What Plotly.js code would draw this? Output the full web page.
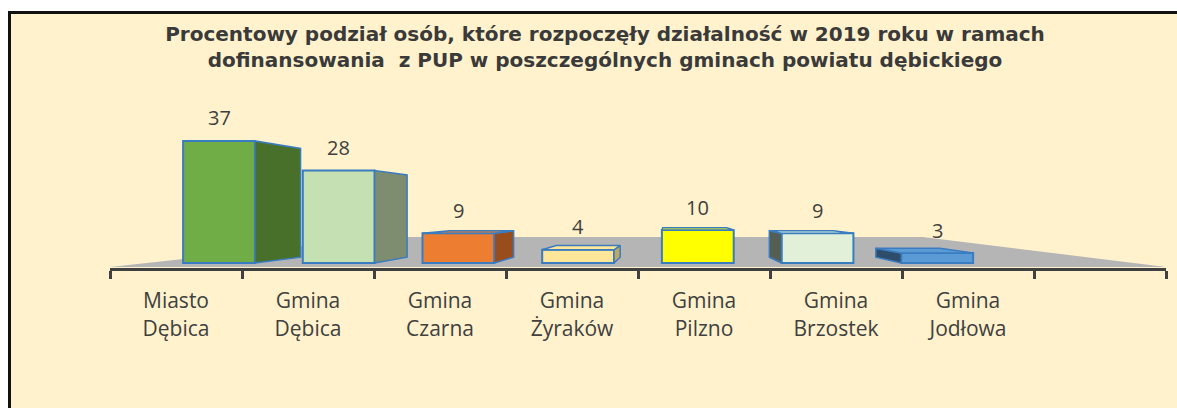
<!DOCTYPE html>
<html>
<head>
<meta charset="utf-8">
<script src="https://cdn.plot.ly/plotly-3.0.1.min.js"></script>
<style>
  html, body { margin: 0; padding: 0; background: #ffffff; width: 1177px; height: 408px; overflow: hidden; }
  #frame { position: absolute; left: 8px; top: 11px; width: 1169px; height: 397px;
           border-left: 3px solid #111111; border-top: 3px solid #111111; background: #FFF2CC; }
  #chart { width: 1166px; height: 394px; }
</style>
</head>
<body>
<div id="frame"><div id="chart"></div></div>
<script>
// ---- data ----
const categories = ['Miasto Dębica', 'Gmina Dębica', 'Gmina Czarna', 'Gmina Żyraków', 'Gmina Pilzno', 'Gmina Brzostek', 'Gmina Jodłowa'];
const values = [37, 28, 9, 4, 10, 9, 3];
const tickLabels = categories.map(c => c.split(' ').join('<br>'));

// ---- styles ----
const frontColors = ['#70AD47', '#C5E0B3', '#ED7D31', '#FFE699', '#FFFF00', '#E2F0D9', '#5B9BD5'];
const sideColors  = ['#48702B', '#7E8C6F', '#9A4D1C', '#BFA865', '#7F7F00', '#545E52', '#2E4D6B'];
const outline = '#3A7CC0';
const textColor = '#404040';

// ---- layout geometry (internal px) ----
const W = 1166, H = 394;
const M = {l: 99, r: 11, t: 86, b: 140};
const plotW = W - M.l - M.r, plotH = H - M.t - M.b;
const xr0 = -0.9106, xr1 = 7.9114;          // bar axis (perspective-compressed front row)
const pxPerY = 3.3;
const yr0 = -5 / pxPerY, yr1 = (plotH - 5) / pxPerY;
const halfW = 0.30;
const VP = {x: 659, y: 196};                 // vanishing point
const depthT = 0.11;

const px = v => M.l + (v - xr0) / (xr1 - xr0) * plotW;
const py = v => M.t + (yr1 - v) / (yr1 - yr0) * plotH;
const ix = p => xr0 + (p - M.l) / plotW * (xr1 - xr0);
const iy = p => yr1 - (p - M.t) / plotH * (yr1 - yr0);
const back = (x, y, t) => [x + t * (VP.x - x), y + t * (VP.y - y)];

const traces = [];
// side and top faces, derived from each bar's value
values.forEach((v, i) => {
  const xl = px(i - halfW), xrr = px(i + halfW), yt = py(v), yb = py(0);
  let edge = null;
  if (xrr < VP.x) edge = xrr; else if (xl > VP.x) edge = xl;
  if (edge !== null) {
    const pts = [[edge, yb], [edge, yt], back(edge, yt, depthT), back(edge, yb, depthT), [edge, yb]];
    traces.push({type: 'scatter', mode: 'lines', fill: 'toself', fillcolor: sideColors[i],
      x: pts.map(p => ix(p[0])), y: pts.map(p => iy(p[1])),
      line: {color: outline, width: 1.5}, hoverinfo: 'skip', showlegend: false, cliponaxis: false});
  }
  if (yt > VP.y) {
    const pts = [[xl, yt], [xrr, yt], back(xrr, yt, depthT), back(xl, yt, depthT), [xl, yt]];
    traces.push({type: 'scatter', mode: 'lines', fill: 'toself', fillcolor: frontColors[i],
      x: pts.map(p => ix(p[0])), y: pts.map(p => iy(p[1])),
      line: {color: outline, width: 1.5}, hoverinfo: 'skip', showlegend: false, cliponaxis: false});
  }
});
// front faces
traces.push({
  type: 'bar', x: categories.map((c, i) => i), y: values, width: 2 * halfW,
  marker: {color: frontColors, line: {color: outline, width: 2}},
  hovertext: categories, hoverinfo: 'text+y', showlegend: false
});
// invisible trace that carries the category axis (labels + boundary ticks)
traces.push({
  type: 'scatter', mode: 'none', xaxis: 'x2', yaxis: 'y',
  x: categories.map((c, i) => i), y: values, hoverinfo: 'skip', showlegend: false
});

// floor (decoration) in paper coords
const yb0 = py(0);
const floorT = (yb0 - 223) / (yb0 - VP.y);
const fl = [[M.l, yb0 + 4], [M.l + plotW, yb0 + 4], back(M.l + plotW, yb0, floorT), back(M.l, yb0, floorT)];
const toPaper = p => [(p[0] - M.l) / plotW, (M.t + plotH - p[1]) / plotH];
const floorPath = fl.map((p, k) => { const q = toPaper(p); return (k ? 'L' : 'M') + q[0].toFixed(4) + ',' + q[1].toFixed(4); }).join(' ') + ' Z';

const annotations = values.map((v, i) => ({
  x: i, y: v, xref: 'x', yref: 'y', text: String(v), showarrow: false,
  yshift: 23, font: {family: '"Open Sans", sans-serif', size: 20, color: textColor}
}));

const layout = {
  width: W, height: H,
  margin: M,
  paper_bgcolor: '#FFF2CC', plot_bgcolor: 'rgba(0,0,0,0)',
  title: {
    text: '<b>Procentowy podział osób, które rozpoczęły działalność w 2019 roku w ramach<br>dofinansowania  z PUP w poszczególnych gminach powiatu dębickiego</b>',
    font: {family: '"DejaVu Sans", sans-serif', size: 20, color: '#3A3A3A'},
    x: 594 / W, xref: 'container', xanchor: 'center',
    y: 1 - 27 / H, yref: 'container', yanchor: 'top'
  },
  xaxis: {range: [xr0, xr1], showgrid: false, zeroline: false, showticklabels: false, showline: false, ticks: '', fixedrange: true},
  xaxis2: {
    overlaying: 'x', anchor: 'y', side: 'bottom',
    range: [-0.5, 7.5], tickmode: 'array', tickvals: categories.map((c, i) => i), ticktext: tickLabels,
    ticks: '', showgrid: false, zeroline: false,
    showline: true, linecolor: '#404040', linewidth: 3,
    tickfont: {family: '"Open Sans", sans-serif', size: 21, color: textColor},
    ticklabelstandoff: 12,
    minor: {ticks: 'outside', ticklen: 8, tickwidth: 3, tickcolor: '#404040', tick0: -0.5, dtick: 1, showgrid: false}
  },
  yaxis: {range: [yr0, yr1], visible: false, fixedrange: true},
  shapes: [{type: 'path', xref: 'paper', yref: 'paper', path: floorPath, fillcolor: '#B5B5B5', line: {width: 0}, layer: 'below'}],
  annotations: annotations,
  showlegend: false
};

Plotly.newPlot('chart', traces, layout, {displayModeBar: false, staticPlot: true});
</script>
</body>
</html>
